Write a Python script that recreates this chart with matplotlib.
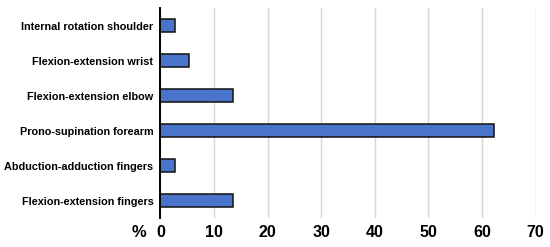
import matplotlib.pyplot as plt
import numpy as np

# data (percent of patients)
movements = ['Internal rotation shoulder', 'Flexion-extension wrist', 'Flexion-extension elbow',
             'Prono-supination forearm', 'Abduction-adduction fingers', 'Flexion-extension fingers']
percent = [2.7, 5.4, 13.5, 62.2, 2.7, 13.5]
xticks = [0, 10, 20, 30, 40, 50, 60, 70]

plt.rcParams['font.family'] = ['Liberation Sans', 'DejaVu Sans']
plt.rcParams['font.weight'] = 'bold'

fig = plt.figure(figsize=(5.5, 2.47), dpi=100)
ax = fig.add_axes([0.2915, 0.1174, 0.6825, 0.8502])

y = np.arange(len(movements))
ax.barh(y, percent, height=0.37, color='#4a74c9', edgecolor='#111111', linewidth=1.1, zorder=3)

ax.set_ylim(len(movements) - 0.5, -0.5)
ax.set_xlim(0, 70)
ax.set_yticks(y)
ax.set_yticklabels(movements, fontsize=7.8, fontweight='bold')
ax.set_xticks(xticks)
ax.set_xticklabels([str(t) for t in xticks], fontsize=11.5, fontweight='bold')
ax.tick_params(length=0, pad=5)
ax.tick_params(axis='x', pad=5)

ax.grid(axis='x', color='#d5d5d5', linewidth=1, zorder=0)
for s in ['top', 'right', 'bottom']:
    ax.spines[s].set_visible(False)
ax.spines['left'].set_linewidth(1.4)
ax.spines['left'].set_zorder(4)

fig.text(0.252, 0.03, '%', fontsize=12, fontweight='bold', ha='center', va='bottom')

plt.savefig('out.png', dpi=100)
